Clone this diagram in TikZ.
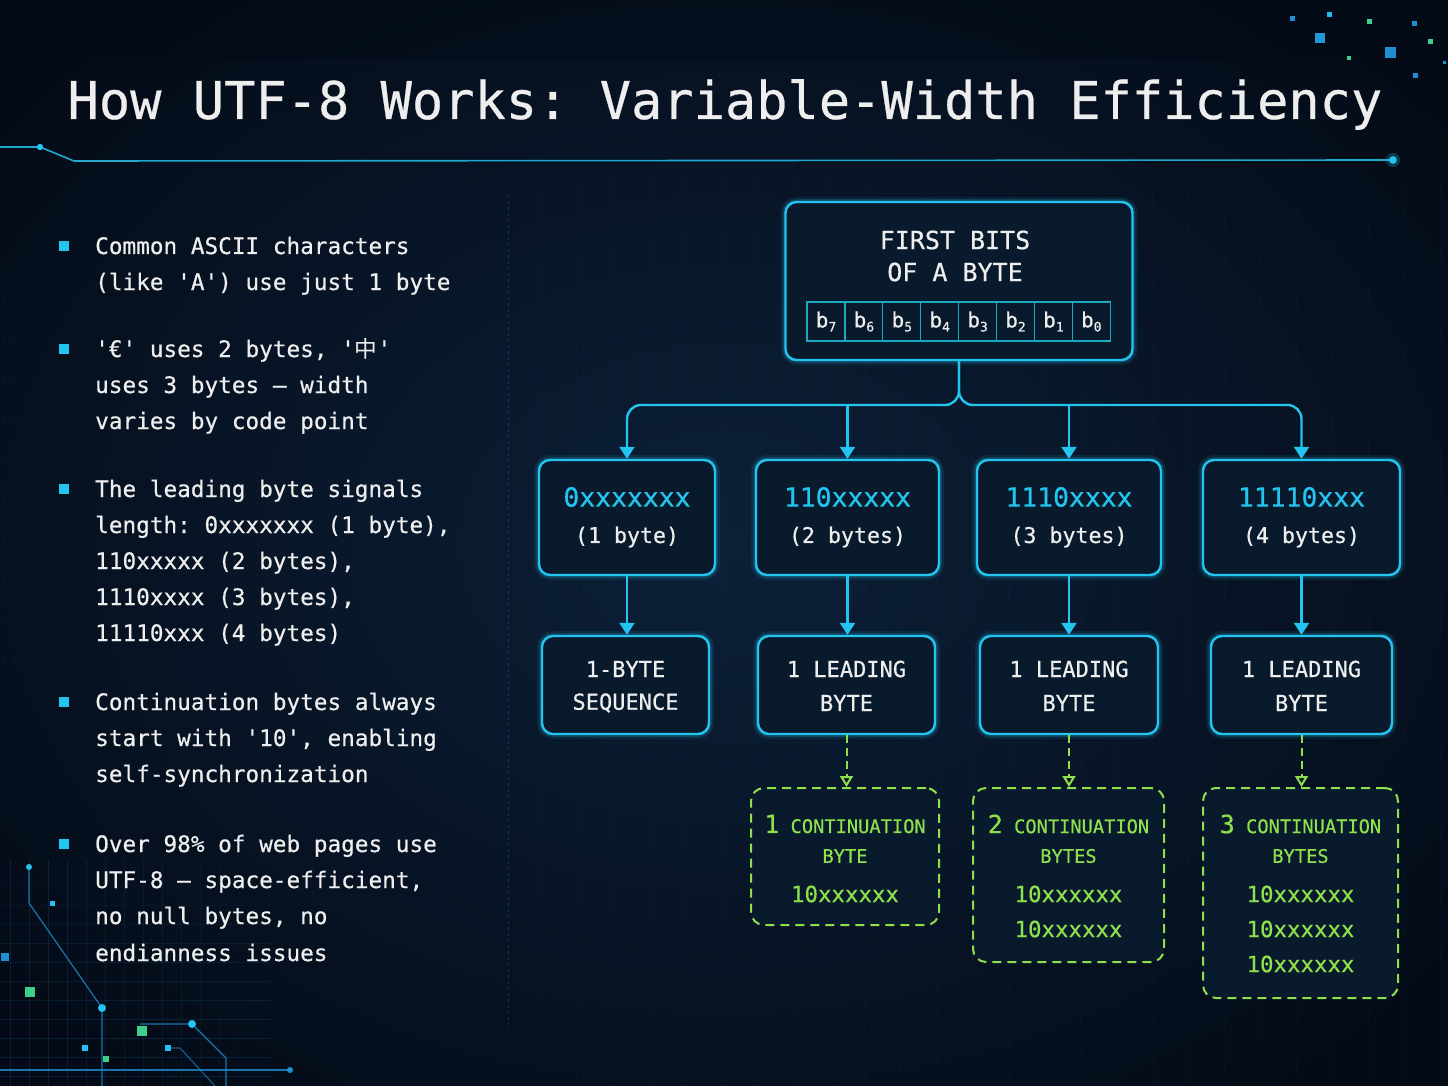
\documentclass[tikz,border=0pt]{standalone}
\usepackage{fontspec}
\setmonofont{DejaVu Sans Mono}[FakeBold=0.5]
\newfontfamily\cjk{Noto Sans CJK SC}
\usetikzlibrary{arrows.meta,calc}
\definecolor{cyan1}{HTML}{24C4F0}
\definecolor{boxfill}{HTML}{081A2C}
\definecolor{greenc}{HTML}{8EE04C}
\definecolor{txt}{HTML}{EEEEEE}
\definecolor{bitc}{HTML}{1CA8BE}
\definecolor{bgin}{HTML}{0C2038}
\definecolor{bgout}{HTML}{040B17}
\definecolor{gridc}{HTML}{1A5A88}
\definecolor{decblue}{HTML}{1E8FD0}
\definecolor{decgreen}{HTML}{3ED08A}
\newcommand\sbs[1]{\raisebox{-0.35ex}{\fontsize{13}{13}\selectfont #1}}
\newcommand\fs[1]{\fontsize{#1}{#1}\selectfont}
\begin{document}
\begin{tikzpicture}[x=1pt,y=-1pt,
  every node/.style={font=\ttfamily, text=txt, inner sep=0pt},
  glowbox/.style={draw=cyan1, line width=2.4pt, rounded corners=11pt, fill=boxfill,
     preaction={draw=cyan1, line width=10pt, opacity=0.10},
     preaction={draw=cyan1, line width=5.5pt, opacity=0.18}},
  greenbox/.style={draw=greenc, line width=2pt, dash pattern=on 9pt off 6pt, rounded corners=13pt, fill=boxfill},
  bitcell/.style={draw=bitc, line width=1.2pt, minimum width=37.9pt, minimum height=39pt, font=\ttfamily\fs{21}},
  carrow/.style={draw=cyan1, line width=2.4pt, -{Triangle[width=15pt,length=12pt]}},
  garrow/.style={draw=greenc, line width=2pt, dash pattern=on 8pt off 5pt, -{Triangle[open,width=13pt,length=11pt]}},
  bul/.style={anchor=base west, font=\ttfamily\fs{22.7}},
  bsq/.style={fill=cyan1, minimum size=10pt},
  ttl/.style={font=\ttfamily\fs{52}},
  codet/.style={font=\ttfamily\fs{26.4}, text=cyan1},
  subt/.style={font=\ttfamily\fs{21.6}},
  lvt/.style={font=\ttfamily\fs{22}},
  gtxt/.style={font=\ttfamily\fs{18.7}, text=greenc},
  gcode/.style={font=\ttfamily\fs{22.4}, text=greenc}
]
% background
\useasboundingbox (0,0) rectangle (1448,1086);
\shade[inner color=bgin, outer color=bgout] (-200,-150) rectangle (1648,1236);
\fill[bgout, opacity=0.35] (0,0) rectangle (1448,60);
\draw[gridc, opacity=0.07, line width=0.6pt, step=36] (520,180) grid (1448,1086);
% bottom-left circuit grid
\foreach \xx/\o in {10/0.28,29/0.28,48/0.26,67/0.24,86/0.22,105/0.2,124/0.18,143/0.16,162/0.14,181/0.12,200/0.1,219/0.08,238/0.06,257/0.04}
  \draw[gridc, opacity=\o, line width=0.7pt] (\xx,860) -- (\xx,1086);
\foreach \yy/\o in {886/0.06,905/0.1,924/0.14,943/0.18,962/0.2,981/0.22,1000/0.24,1019/0.26,1038/0.28,1057/0.28,1076/0.28}
  \draw[gridc, opacity=\o, line width=0.7pt] (0,\yy) -- (270,\yy);
\draw[decblue, line width=1.2pt, opacity=0.8] (29,867) -- (29,903) -- (102,1008) -- (102,1086);
\draw[decblue, line width=1.2pt, opacity=0.8] (140,1024) -- (192,1024) -- (226,1058) -- (226,1086);
\draw[decblue, line width=1.2pt, opacity=0.8] (0,1070) -- (290,1070);
\draw[decblue, line width=1.2pt, opacity=0.6] (168,1048) -- (180,1048) -- (215,1086);
\fill[cyan1] (29,867) circle (3);
\fill[cyan1] (102,1008) circle (4);
\fill[cyan1] (192,1024) circle (4);
\fill[decblue] (290,1070) circle (3);
\fill[decgreen] (25,987) rectangle ++(10,10);
\fill[decgreen] (137,1026) rectangle ++(10,10);
\fill[decgreen] (103,1056) rectangle ++(6,6);
\fill[cyan1] (82,1045) rectangle ++(6,6);
\fill[cyan1] (165,1045) rectangle ++(6,6);
\fill[decblue] (1,953) rectangle ++(8,8);
\fill[cyan1] (50,901) rectangle ++(5,5);
\foreach \yy in {300,340,380,420,460,500,540,580,620,660}
  \foreach \xx in {4,14,24} \fill[gridc, opacity=0.35] (\xx,\yy) circle (0.8);
% top-right decor
\fill[decblue] (1290,16) rectangle ++(5,5);
\fill[cyan1!80!decblue] (1327,12) rectangle ++(5,5);
\fill[decgreen] (1367,19) rectangle ++(5,5);
\fill[decblue] (1412,21) rectangle ++(5,5);
\fill[decblue!80!cyan1] (1315,33) rectangle ++(10,10);
\fill[decblue] (1385,47) rectangle ++(11,11);
\fill[decgreen] (1347,56) rectangle ++(4,4);
\fill[decgreen] (1428,39) rectangle ++(5,5);
\fill[decblue] (1413,73) rectangle ++(5,5);
\fill[decblue] (1443,61) rectangle ++(3,3);
% title
\node[ttl, anchor=base] (title) at (725,119) {How UTF-8 Works: Variable-Width Efficiency};
% header line
\coordinate (h0) at (0,147); \coordinate (h1) at (40,147); \coordinate (h2) at (74,161); \coordinate (h3) at (1393,160);
\draw[cyan1!85!black, line width=1.6pt] (h0) -- (h1) -- (h2) -- (h3);
\fill[cyan1] (h1) circle (3.2);
\fill[cyan1, opacity=0.25] (h3) circle (7);
\fill[cyan1] (h3) circle (3.8);
% divider
\draw[gridc, opacity=0.45, line width=0.8pt, dash pattern=on 3pt off 3pt] (508,195) -- (508,1030);
% bullets
\node[bsq] (q1) at (64,246) {};
\node[bul] (l11) at (95,254) {Common ASCII characters};
\node[bul] (l12) at (95,290) {(like 'A') use just 1 byte};
\node[bsq] (q2) at (64,349) {};
\node[bul] (l21) at (95,357) {'€' uses 2 bytes, '{\cjk 中}'};
\node[bul] (l22) at (95,393) {uses 3 bytes — width};
\node[bul] (l23) at (95,429) {varies by code point};
\node[bsq] (q3) at (64,489) {};
\node[bul] (l31) at (95,497) {The leading byte signals};
\node[bul] (l32) at (95,533) {length: 0xxxxxxx (1 byte),};
\node[bul] (l33) at (95,569) {110xxxxx (2 bytes),};
\node[bul] (l34) at (95,605) {1110xxxx (3 bytes),};
\node[bul] (l35) at (95,641) {11110xxx (4 bytes)};
\node[bsq] (q4) at (64,702) {};
\node[bul] (l41) at (95,710) {Continuation bytes always};
\node[bul] (l42) at (95,746) {start with '10', enabling};
\node[bul] (l43) at (95,782) {self-synchronization};
\node[bsq] (q5) at (64,844) {};
\node[bul] (l51) at (95,852) {Over 98\% of web pages use};
\node[bul] (l52) at (95,888) {UTF-8 — space-efficient,};
\node[bul] (l53) at (95,924) {no null bytes, no};
\node[bul] (l54) at (95,961) {endianness issues};
% root
\node[glowbox, minimum width=347pt, minimum height=158pt] (root) at (959,281) {};
\node[font=\ttfamily\fs{25}] (rt1) at (955,240) {FIRST BITS};
\node[font=\ttfamily\fs{25}] (rt2) at (955,272) {OF A BYTE};
\foreach \i/\b in {0/7,1/6,2/5,3/4,4/3,5/2,6/1,7/0}
  \node[bitcell] (bit\b) at ({826+37.9*\i},321.5) {b\sbs{\b}};
% level 1
\node[glowbox, minimum width=176pt, minimum height=115pt] (c1) at (627,517.5) {};
\node[glowbox, minimum width=183pt, minimum height=115pt] (c2) at (847.5,517.5) {};
\node[glowbox, minimum width=184pt, minimum height=115pt] (c3) at (1069,517.5) {};
\node[glowbox, minimum width=197pt, minimum height=115pt] (c4) at (1301.5,517.5) {};
\node[codet] (c1a) at (c1 |- 0,497) {0xxxxxxx};
\node[subt] (c1b) at (c1 |- 0,537) {(1 byte)};
\node[codet] (c2a) at (c2 |- 0,497) {110xxxxx};
\node[subt] (c2b) at (c2 |- 0,537) {(2 bytes)};
\node[codet] (c3a) at (c3 |- 0,497) {1110xxxx};
\node[subt] (c3b) at (c3 |- 0,537) {(3 bytes)};
\node[codet] (c4a) at (c4 |- 0,497) {11110xxx};
\node[subt] (c4b) at (c4 |- 0,537) {(4 bytes)};
% level 2
\node[glowbox, minimum width=167pt, minimum height=98pt] (d1) at (625.5,685) {};
\node[glowbox, minimum width=177pt, minimum height=98pt] (d2) at (846.5,685) {};
\node[glowbox, minimum width=178pt, minimum height=98pt] (d3) at (1069,685) {};
\node[glowbox, minimum width=181pt, minimum height=98pt] (d4) at (1301.5,685) {};
\node[lvt] (d1a) at (d1 |- 0,669) {1-BYTE};
\node[lvt] (d1b) at (d1 |- 0,703) {SEQUENCE};
\node[lvt] (d2a) at (d2 |- 0,669) {1 LEADING};
\node[lvt] (d2b) at (d2 |- 0,703) {BYTE};
\node[lvt] (d3a) at (d3 |- 0,669) {1 LEADING};
\node[lvt] (d3b) at (d3 |- 0,703) {BYTE};
\node[lvt] (d4a) at (d4 |- 0,669) {1 LEADING};
\node[lvt] (d4b) at (d4 |- 0,703) {BYTE};
% green boxes
\node[greenbox, minimum width=188pt, minimum height=137pt] (g1) at (845,856.5) {};
\node[greenbox, minimum width=191pt, minimum height=174pt] (g2) at (1068.5,875) {};
\node[greenbox, minimum width=195pt, minimum height=210pt] (g3) at (1300.5,893) {};
\node[gtxt] (g1a) at (g1 |- 0,824) {{\fs{25}1} CONTINUATION};
\node[gtxt] (g1b) at (g1 |- 0,856) {BYTE};
\node[gcode] (g1c) at (g1 |- 0,894) {10xxxxxx};
\node[gtxt] (g2a) at (g2 |- 0,824) {{\fs{25}2} CONTINUATION};
\node[gtxt] (g2b) at (g2 |- 0,856) {BYTES};
\node[gcode] (g2c) at (g2 |- 0,894) {10xxxxxx};
\node[gcode] (g2d) at (g2 |- 0,929) {10xxxxxx};
\node[gtxt] (g3a) at (g3 |- 0,824) {{\fs{25}3} CONTINUATION};
\node[gtxt] (g3b) at (g3 |- 0,856) {BYTES};
\node[gcode] (g3c) at (g3 |- 0,894) {10xxxxxx};
\node[gcode] (g3d) at (g3 |- 0,929) {10xxxxxx};
\node[gcode] (g3e) at (g3 |- 0,964) {10xxxxxx};
% connectors
\coordinate (bus) at (959,405);
\draw[carrow, rounded corners=14pt] (root.south) -- (bus) -| (c1.north);
\draw[carrow, rounded corners=14pt] (root.south) -- (bus) -| (c4.north);
\draw[carrow] (c2.north |- bus) -- (c2.north);
\draw[carrow] (c3.north |- bus) -- (c3.north);
\foreach \n in {1,2,3,4}
  \draw[carrow] (c\n.south) -- (c\n.south |- d\n.north);
\draw[garrow] (d2.south) -- (d2.south |- g1.north);
\draw[garrow] (d3.south) -- (d3.south |- g2.north);
\draw[garrow] (d4.south) -- (d4.south |- g3.north);
\end{tikzpicture}
\end{document}
